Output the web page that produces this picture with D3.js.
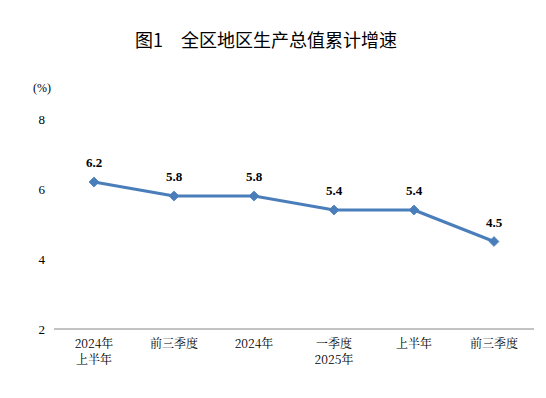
<!DOCTYPE html>
<html>
<head>
<meta charset="utf-8">
<script src="https://cdn.jsdelivr.net/npm/d3@7"></script>
<style>
  body { margin: 0; background: #fff; }
  svg { display: block; }
</style>
</head>
<body>
<div id="chart"></div>
<script>
// chart data
const categories = [
  ["2024年", "上半年"],
  ["前三季度"],
  ["2024年"],
  ["一季度", "2025年"],
  ["上半年"],
  ["前三季度"]
];
const values = [6.2, 5.8, 5.8, 5.4, 5.4, 4.5];
const yTicks = [2, 4, 6, 8];

const width = 546;
const height = 398;
const margin = { top: 119, right: 12, bottom: 69, left: 54 };
const innerWidth = width - margin.left - margin.right;
const innerHeight = height - margin.top - margin.bottom;

const lineColor = "#4a7ebb";

const svg = d3.select("#chart")
  .append("svg")
  .attr("width", width)
  .attr("height", height);

// title
svg.append("text")
  .attr("x", 266)
  .attr("y", 47)
  .attr("text-anchor", "middle")
  .style("font-family", "'Noto Sans CJK SC', sans-serif")
  .attr("font-size", 18)
  .attr("fill", "#000")
  .text("图1\u3000全区地区生产总值累计增速");

const g = svg.append("g")
  .attr("transform", `translate(${margin.left},${margin.top})`);

const x = d3.scaleBand()
  .domain(d3.range(categories.length))
  .range([0, innerWidth]);

const y = d3.scaleLinear().domain([2, 8]).range([innerHeight, 0]);

// y tick labels (no axis line)
const yAxis = d3.axisLeft(y).tickValues(yTicks).tickFormat(d3.format("d")).tickSize(0).tickPadding(9);
g.append("g")
  .attr("class", "y-axis")
  .call(yAxis)
  .attr("font-family", null)
  .call((a) => a.select(".domain").remove())
  .call((a) => a.selectAll("text")
    .style("font-family", "'Liberation Serif', serif")
    .attr("font-size", 13)
    .attr("fill", "#000"));

// unit label
g.append("text")
  .attr("x", -12)
  .attr("y", y(8) - 27)
  .attr("text-anchor", "middle")
  .style("font-family", "'Liberation Serif', serif")
  .attr("font-size", 12)
  .attr("fill", "#000")
  .text("(%)");

// x axis line
g.append("line")
  .attr("x1", 0)
  .attr("x2", innerWidth)
  .attr("y1", innerHeight)
  .attr("y2", innerHeight)
  .attr("stroke", "#868686")
  .attr("stroke-width", 1);

// category labels (Song-style face), one text per line
const catLabels = g.append("g").attr("class", "x-labels");
categories.forEach((lines, i) => {
  lines.forEach((line, j) => {
    catLabels.append("text")
      .attr("x", x(i) + x.bandwidth() / 2)
      .attr("y", innerHeight + 19 + j * 16)
      .attr("text-anchor", "middle")
      .style("font-family", "'Noto Serif CJK SC'")
      .attr("font-size", 12)
      .attr("fill", "#000")
      .text(line);
  });
});

const cx = (d, i) => x(i) + x.bandwidth() / 2;

// line
const line = d3.line()
  .x((d, i) => cx(d, i))
  .y((d) => y(d));

g.append("path")
  .datum(values)
  .attr("fill", "none")
  .attr("stroke", lineColor)
  .attr("stroke-width", 3)
  .attr("stroke-linejoin", "round")
  .attr("d", line);

// diamond markers
const diamond = d3.symbol().type(d3.symbolDiamond2).size(60);
g.selectAll("path.marker")
  .data(values)
  .enter()
  .append("path")
  .attr("class", "marker")
  .attr("d", diamond)
  .attr("transform", (d, i) => `translate(${cx(d, i)},${y(d)})`)
  .attr("fill", lineColor)
  .attr("stroke", lineColor)
  .attr("stroke-width", 1);

// value labels
g.selectAll("text.value")
  .data(values)
  .enter()
  .append("text")
  .attr("class", "value")
  .attr("x", (d, i) => cx(d, i))
  .attr("y", (d) => y(d) - 15)
  .attr("text-anchor", "middle")
  .style("font-family", "'Liberation Serif', serif")
  .attr("font-weight", "bold")
  .attr("font-size", 13)
  .attr("fill", "#000")
  .text((d) => d.toFixed(1));
</script>
</body>
</html>
